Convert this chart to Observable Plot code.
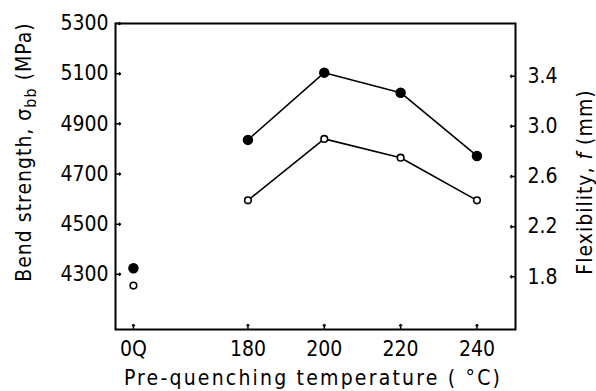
<!DOCTYPE html>
<html><head><meta charset="utf-8">
<script src="https://cdn.jsdelivr.net/npm/d3@7"></script>
<script src="https://cdn.jsdelivr.net/npm/@observablehq/plot@0.6"></script>
<style>body{margin:0;background:#fff}</style>
</head><body><div id="chart"></div>
<script>
// Data
const xPositions = [150, 180, 200, 220, 240];
const xLabels = ["0Q", "180", "200", "220", "240"];
const strength = [4324, 4836, 5104, 5024, 4772];   // MPa, filled circles (left axis)
const flexibility = [1.73, 2.41, 2.90, 2.75, 2.41]; // mm, open circles (right axis)
const leftTicks = [4300, 4500, 4700, 4900, 5100, 5300];
const rightTicks = [1.8, 2.2, 2.6, 3.0, 3.4];

// map flexibility (mm) onto the left (MPa) scale
const f2y = f => 4290 + (f - 1.8) * 500;
const y2f = v => (v - 4290) / 500 + 1.8;

const rows = xPositions.map((x, i) => ({x, label: xLabels[i], s: strength[i], f: f2y(flexibility[i]), quench: i === 0}));
const lineRows = rows.filter(d => !d.quench);

const font = "'DejaVu Sans Condensed','DejaVu Sans',sans-serif";

const chart = Plot.plot({
  width: 596, height: 391,
  marginLeft: 115, marginRight: 81, marginTop: 23, marginBottom: 62,
  style: {fontFamily: font, fontSize: "21px", color: "black", background: "white"},
  x: {domain: [145.3, 250.1]},
  y: {domain: [4080, 5300]},
  marks: [
    Plot.frame({stroke: "black", strokeWidth: 2}),
    // inward tick marks
    Plot.vector(xPositions, {x: d => d, frameAnchor: "bottom", rotate: 0, length: 5, anchor: "start", stroke: "black", strokeWidth: 1.5}),
    Plot.vector(leftTicks, {y: d => d, frameAnchor: "left", rotate: 90, length: 5, anchor: "start", stroke: "black", strokeWidth: 1.5}),
    Plot.vector(rightTicks.map(f2y), {y: d => d, frameAnchor: "right", rotate: -90, length: 5, anchor: "start", stroke: "black", strokeWidth: 1.5}),
    // tick labels
    Plot.axisX({ticks: xPositions, tickFormat: d => xLabels[xPositions.indexOf(d)], tickSize: 0, tickPadding: 12, label: null}),
    Plot.axisY({anchor: "left", ticks: leftTicks, tickFormat: d => String(d), tickSize: 0, tickPadding: 7, label: null}),
    Plot.axisY({anchor: "right", ticks: rightTicks.map(f2y), tickFormat: v => y2f(v).toFixed(1), tickSize: 0, tickPadding: 12, label: null}),
    Plot.line(lineRows, {x: "x", y: "s", stroke: "black", strokeWidth: 1.6}),
    Plot.line(lineRows, {x: "x", y: "f", stroke: "black", strokeWidth: 1.6}),
    Plot.dot(rows, {x: "x", y: "s", r: 4.5, fill: "black", stroke: "black"}),
    Plot.dot(rows, {x: "x", y: "f", r: 3.3, fill: "white", stroke: "black", strokeWidth: 1.6})
  ]
});

const svg = d3.select(chart);
// x axis title
svg.append("text")
  .attr("x", 313).attr("y", 385)
  .attr("text-anchor", "middle")
  .style("font-family", font).style("font-size", "21px").style("letter-spacing", "2.2px")
  .text("Pre-quenching temperature ( °C)");
// left y title
const lt = svg.append("text")
  .attr("transform", "translate(31,152) rotate(-90)")
  .attr("text-anchor", "middle")
  .style("font-family", font).style("font-size", "21px").style("letter-spacing", "1px");
lt.append("tspan").text("Bend strength, σ");
lt.append("tspan").attr("dy", 5).style("font-size", "16px").text("bb");
lt.append("tspan").attr("dy", -5).text(" (MPa)");
// right y title
const rt = svg.append("text")
  .attr("transform", "translate(592,182) rotate(-90)")
  .attr("text-anchor", "middle")
  .style("font-family", font).style("font-size", "21px").style("letter-spacing", "1px");
rt.append("tspan").text("Flexibility, ");
rt.append("tspan").style("font-style", "italic").text("f");
rt.append("tspan").text(" (mm)");

document.getElementById("chart").appendChild(chart);
</script>
</body></html>
